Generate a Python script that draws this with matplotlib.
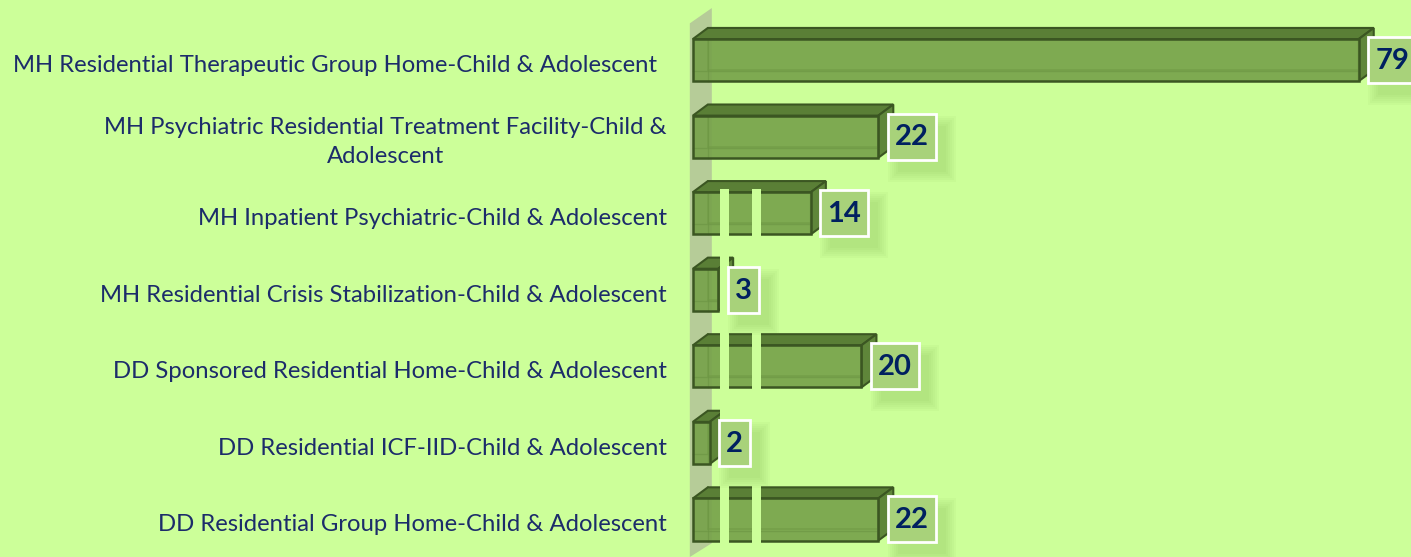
"""3D-style horizontal bar chart: residential settings for children & adolescents."""

import matplotlib.pyplot as plt
from matplotlib.patches import Polygon, Rectangle

# Data
categories = [
    'MH Residential Therapeutic Group Home-Child & Adolescent',
    'MH Psychiatric Residential Treatment Facility-Child &\nAdolescent',
    'MH Inpatient Psychiatric-Child & Adolescent',
    'MH Residential Crisis Stabilization-Child & Adolescent',
    'DD Sponsored Residential Home-Child & Adolescent',
    'DD Residential ICF-IID-Child & Adolescent',
    'DD Residential Group Home-Child & Adolescent',
]
values = [79, 22, 14, 3, 20, 2, 22]

# Colours
BG = '#ccff99'
FRONT = '#76a14a'
TOP = '#5a7f36'
SIDE = '#5f863a'
EDGE = '#3b5622'
INNER = '#6b9443'
WALL = '#b6cc98'
BOX = '#a8d27a'
NAVY = '#002060'
LABEL = '#1c2c6a'

# 3D geometry (data units)
DX = 1.78      # depth offset in x
DY = -0.145    # depth offset in y (up)
H = 0.275      # half bar height

fig = plt.figure(figsize=(14.11, 5.57), dpi=100, facecolor=BG)
ax = fig.add_axes([0, 0, 1, 1])
ax.set_xlim(-82.2, 85.2)
ax.set_ylim(6.49, -0.785)
ax.axis('off')

# back wall
wall = Polygon([(-0.36, -0.48), (2.25, -0.68), (2.25, 6.31), (-0.36, 6.49)],
               closed=True, facecolor=WALL, edgecolor='none', zorder=1)
ax.add_patch(wall)

for i, v in enumerate(values):
    y0, y1 = i - H, i + H
    # inner (back) edges seen through the box
    ax.plot([DX, DX], [y0 + DY, y1 + DY], color=INNER, lw=1.2, zorder=2)
    ax.plot([DX, v + DX], [y1 + DY, y1 + DY], color=INNER, lw=1.2, zorder=2)
    # top face
    ax.add_patch(Polygon([(0, y0), (v, y0), (v + DX, y0 + DY), (DX, y0 + DY)],
                         closed=True, facecolor=TOP, edgecolor=EDGE, lw=1.5,
                         zorder=3))
    # right face
    ax.add_patch(Polygon([(v, y0), (v + DX, y0 + DY), (v + DX, y1 + DY), (v, y1)],
                         closed=True, facecolor=SIDE, edgecolor=EDGE, lw=1.5,
                         zorder=3))
    # front face
    ax.add_patch(Rectangle((0, y0), v, 2 * H, facecolor=FRONT, alpha=0.9,
                           edgecolor='none', zorder=4))
    ax.plot([DX, DX], [y0, y1], color=INNER, lw=1, alpha=0.6, zorder=4)
    ax.plot([0, v], [y1 - 0.13, y1 - 0.13], color=INNER, lw=1, alpha=0.6, zorder=4)
    ax.add_patch(Rectangle((0, y0), v, 2 * H, facecolor='none',
                           edgecolor=EDGE, lw=1.8, zorder=4))

# light gaps cutting through the lower bars
for x0, x1 in [(3.2, 4.27), (7.0, 8.07)]:
    ax.add_patch(Rectangle((x0, 1.68), x1 - x0, 4.63, facecolor=BG,
                           edgecolor='none', zorder=5))

# category labels
for i, lab in enumerate(categories):
    xr = -4.25 if i == 0 else -3.1
    ax.text(xr, i + 0.07, lab, ha='right', va='center', multialignment='center',
            fontsize=17.2, family='Lato', color=LABEL, linespacing=1.42,
            zorder=6)

# value labels (text first, box sized around it afterwards)
value_texts = []
for i, v in enumerate(values):
    t = ax.text(v + 1.95, i + 0.01, str(v), ha='left', va='center', fontsize=21,
                fontweight='bold', family='Lato', color=NAVY, zorder=9)
    value_texts.append(t)

fig.canvas.draw()
PAD_X, BOX_H = 7, 46   # pixels
for i, t in enumerate(value_texts):
    bb = t.get_window_extent()
    yc = ax.transData.transform((0, i))[1]
    bx, by = bb.x0 - PAD_X, yc - BOX_H / 2
    bw = bb.width + 2 * PAD_X
    # soft shadow
    for k in range(6):
        g = 2 * k
        ax.add_patch(Rectangle((bx + 10 - g, by - 12 - g), bw + 2 * g, BOX_H + 2 * g,
                               transform=None, facecolor='#5d8f30',
                               edgecolor='none', alpha=0.04, zorder=6))
    ax.add_patch(Rectangle((bx, by), bw, BOX_H, transform=None, facecolor=BOX,
                           edgecolor='white', lw=2, zorder=8))

fig.savefig('out.png', dpi=100, facecolor=BG)
